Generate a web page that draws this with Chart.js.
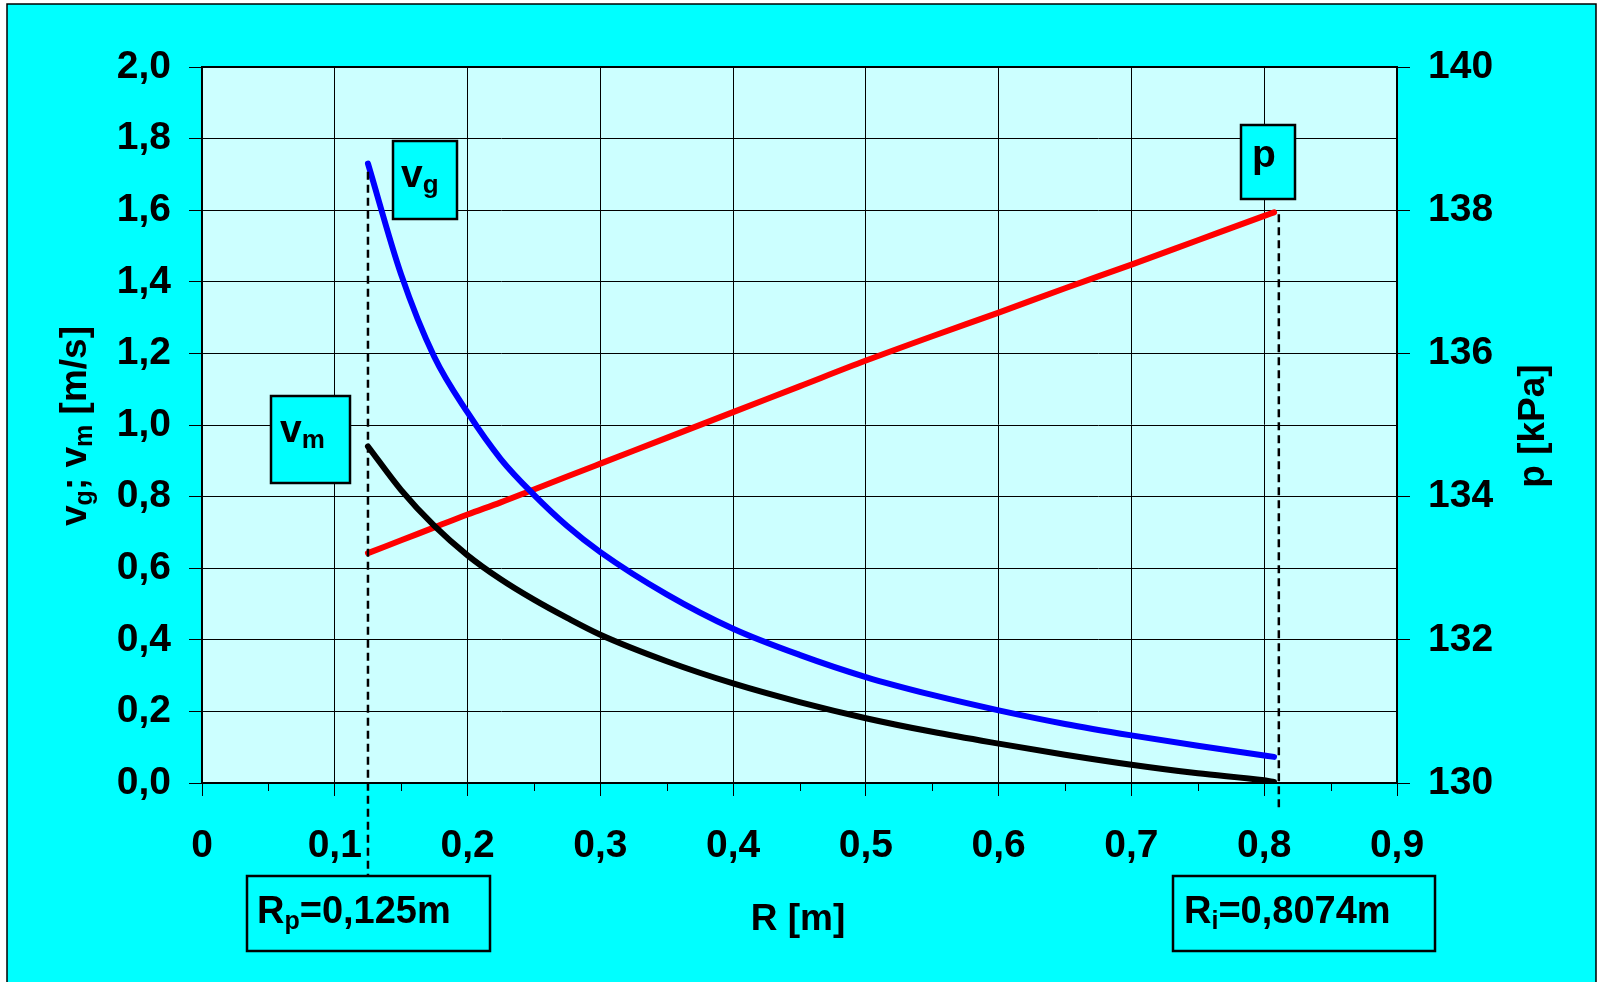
<!DOCTYPE html>
<html><head><meta charset="utf-8">
<script src="https://cdn.jsdelivr.net/npm/chart.js@4.4.1/dist/chart.umd.min.js"></script>
<style>html,body{margin:0;padding:0;background:#fff;overflow:hidden}#wrap{width:1602px;height:982px;position:relative}</style>
</head><body><div id="wrap"><canvas id="c"></canvas></div>
<script>
// ---- data ----
const R  = [0.125,0.15,0.175,0.2,0.225,0.25,0.275,0.3,0.35,0.4,0.45,0.5,0.55,0.6,0.65,0.7,0.75,0.8,0.8074];
const vg = [1.73,1.42,1.19,1.035,0.905,0.805,0.718,0.645,0.527,0.431,0.358,0.296,0.246,0.203,0.165,0.133,0.104,0.077,0.073];
const vm = [0.94,0.818,0.718,0.636,0.569,0.512,0.461,0.414,0.340,0.278,0.226,0.181,0.143,0.110,0.079,0.051,0.027,0.0075,0.003];
const p  = [133.21,133.39,133.57,133.75,133.92,134.10,134.28,134.46,134.82,135.18,135.54,135.90,136.24,136.57,136.91,137.24,137.58,137.92,137.97];
const xTickLabels = ['0','0,1','0,2','0,3','0,4','0,5','0,6','0,7','0,8','0,9'];
const yTickLabels = ['0,0','0,2','0,4','0,6','0,8','1,0','1,2','1,4','1,6','1,8','2,0'];
const pTickLabels = ['130','132','134','136','138','140'];
const R_P = 0.125, R_I_LINE = 0.811;

const FONT = "'Liberation Sans', Arial, Helvetica, sans-serif";
const CYAN = '#00FFFF', PLOT = '#CCFFFF';

function drawRich(ctx, parts, x, y, align) {
  let w = 0;
  for (const [t, s] of parts) { ctx.font = `bold ${s}px ${FONT}`; w += ctx.measureText(t).width; }
  let cx = align === 'center' ? x - w / 2 : x;
  ctx.textAlign = 'left'; ctx.textBaseline = 'alphabetic';
  for (const [t, s, dy] of parts) {
    ctx.font = `bold ${s}px ${FONT}`;
    ctx.fillText(t, cx, y + (dy || 0));
    cx += ctx.measureText(t).width;
  }
}
function box(ctx, x1, y1, x2, y2) {
  ctx.fillStyle = CYAN; ctx.fillRect(x1, y1, x2 - x1, y2 - y1);
  ctx.strokeStyle = '#000'; ctx.lineWidth = 2.5; ctx.strokeRect(x1, y1, x2 - x1, y2 - y1);
}

const deco = {
  id: 'deco',
  beforeDraw(chart) {
    const ctx = chart.ctx, a = chart.chartArea;
    ctx.save();
    ctx.fillStyle = '#fff'; ctx.fillRect(0, 0, chart.width, chart.height);
    ctx.fillStyle = CYAN; ctx.fillRect(7, 4, 1589, 990);
    ctx.strokeStyle = '#000'; ctx.lineWidth = 1.5;
    ctx.beginPath(); ctx.moveTo(7, 990); ctx.lineTo(7, 4); ctx.lineTo(1596, 4); ctx.lineTo(1596, 990); ctx.stroke();
    ctx.fillStyle = PLOT; ctx.fillRect(a.left, a.top, a.right - a.left, a.bottom - a.top);
    ctx.restore();
  },
  beforeDatasetsDraw(chart) {
    const ctx = chart.ctx, a = chart.chartArea;
    ctx.save();
    ctx.strokeStyle = '#000'; ctx.lineWidth = 2;
    ctx.strokeRect(a.left, a.top, a.right - a.left, a.bottom - a.top);
    ctx.restore();
  },
  afterDraw(chart) {
    const ctx = chart.ctx, a = chart.chartArea;
    const xs = chart.scales.x, ys = chart.scales.y, ps = chart.scales.y1;
    ctx.save();
    // minor ticks on x axis
    ctx.strokeStyle = '#000'; ctx.lineWidth = 1;
    for (let i = 0; i < 9; i++) {
      const px = Math.round(xs.getPixelForValue(0.05 + i * 0.1)) + 0.5;
      ctx.beginPath(); ctx.moveTo(px, a.bottom); ctx.lineTo(px, a.bottom + 8); ctx.stroke();
    }
    // dashed reference lines
    ctx.setLineDash([8, 5]); ctx.lineWidth = 2.5;
    let px = xs.getPixelForValue(R_P);
    ctx.beginPath(); ctx.moveTo(px, ys.getPixelForValue(vg[0]) + 8); ctx.lineTo(px, 876); ctx.stroke();
    px = xs.getPixelForValue(R_I_LINE);
    ctx.beginPath(); ctx.moveTo(px, ps.getPixelForValue(p[p.length - 1]) + 2); ctx.lineTo(px, 808); ctx.stroke();
    ctx.setLineDash([]);
    // label boxes
    box(ctx, 393, 141, 457, 219);
    box(ctx, 271, 396, 350, 483);
    box(ctx, 1241, 125, 1295, 199);
    box(ctx, 247, 876, 490, 951);
    box(ctx, 1173, 876, 1435, 951);
    ctx.fillStyle = '#000';
    drawRich(ctx, [['v', 39], ['g', 26, 6]], 401, 187, 'left');
    drawRich(ctx, [['v', 39], ['m', 26, 6]], 280, 442, 'left');
    drawRich(ctx, [['p', 39]], 1252, 167, 'left');
    drawRich(ctx, [['R', 38], ['p', 25, 6], ['=0,125m', 38]], 257, 923, 'left');
    drawRich(ctx, [['R', 38], ['i', 25, 6], ['=0,8074m', 38]], 1184, 923, 'left');
    // axis titles
    drawRich(ctx, [['R [m]', 37]], 798, 930, 'center');
    ctx.save(); ctx.translate(86, 426); ctx.rotate(-Math.PI / 2);
    drawRich(ctx, [['v', 37], ['g', 25, 6], ['; v', 37], ['m', 25, 6], [' [m/s]', 37]], 0, 0, 'center');
    ctx.restore();
    ctx.save(); ctx.translate(1544, 426); ctx.rotate(-Math.PI / 2);
    drawRich(ctx, [['p [kPa]', 37]], 0, 0, 'center');
    ctx.restore();
    ctx.restore();
  }
};

const pts = (ys) => R.map((r, i) => ({ x: r, y: ys[i] }));
const tickFont = { family: FONT, size: 39, weight: 'bold' };

new Chart(document.getElementById('c'), {
  type: 'line',
  data: {
    datasets: [
      { label: 'vg', data: pts(vg), borderColor: '#0000FF', yAxisID: 'y' },
      { label: 'vm', data: pts(vm), borderColor: '#000000', yAxisID: 'y' },
      { label: 'p',  data: pts(p),  borderColor: '#FF0000', yAxisID: 'y1' }
    ]
  },
  options: {
    responsive: true, maintainAspectRatio: false, animation: false,
    devicePixelRatio: 1,
    layout: { padding: { top: 67, left: 0, right: 0, bottom: 0 } },
    elements: {
      point: { radius: 0, hoverRadius: 0 },
      line: { borderWidth: 6, cubicInterpolationMode: 'monotone', borderCapStyle: 'round', borderJoinStyle: 'round', fill: false }
    },
    plugins: { legend: { display: false }, tooltip: { enabled: false } },
    events: [],
    scales: {
      x: {
        type: 'linear', min: 0, max: 0.9,
        afterFit: s => { s.height = 199; },
        ticks: { stepSize: 0.1, font: tickFont, color: '#000', padding: 27, maxRotation: 0, autoSkip: false,
                 callback: v => xTickLabels[Math.round(v * 10)] },
        grid: { color: '#000', lineWidth: 1, tickLength: 13, tickColor: '#000', drawTicks: true },
        border: { display: true, color: '#000', width: 2 }
      },
      y: {
        position: 'left', min: 0, max: 2,
        afterFit: s => { s.width = 202; },
        ticks: { stepSize: 0.2, font: tickFont, color: '#000', padding: 18,
                 callback: v => yTickLabels[Math.round(v * 5)] },
        grid: { color: '#000', lineWidth: 1, tickLength: 13, tickColor: '#000' },
        border: { display: true, color: '#000', width: 2 }
      },
      y1: {
        position: 'right', min: 130, max: 140,
        afterFit: s => { s.width = 205; },
        ticks: { stepSize: 2, font: tickFont, color: '#000', padding: 18,
                 callback: v => pTickLabels[Math.round((v - 130) / 2)] },
        grid: { drawOnChartArea: false, tickLength: 13, tickColor: '#000' },
        border: { display: true, color: '#000', width: 2 }
      }
    }
  },
  plugins: [deco]
});
</script></body></html>
